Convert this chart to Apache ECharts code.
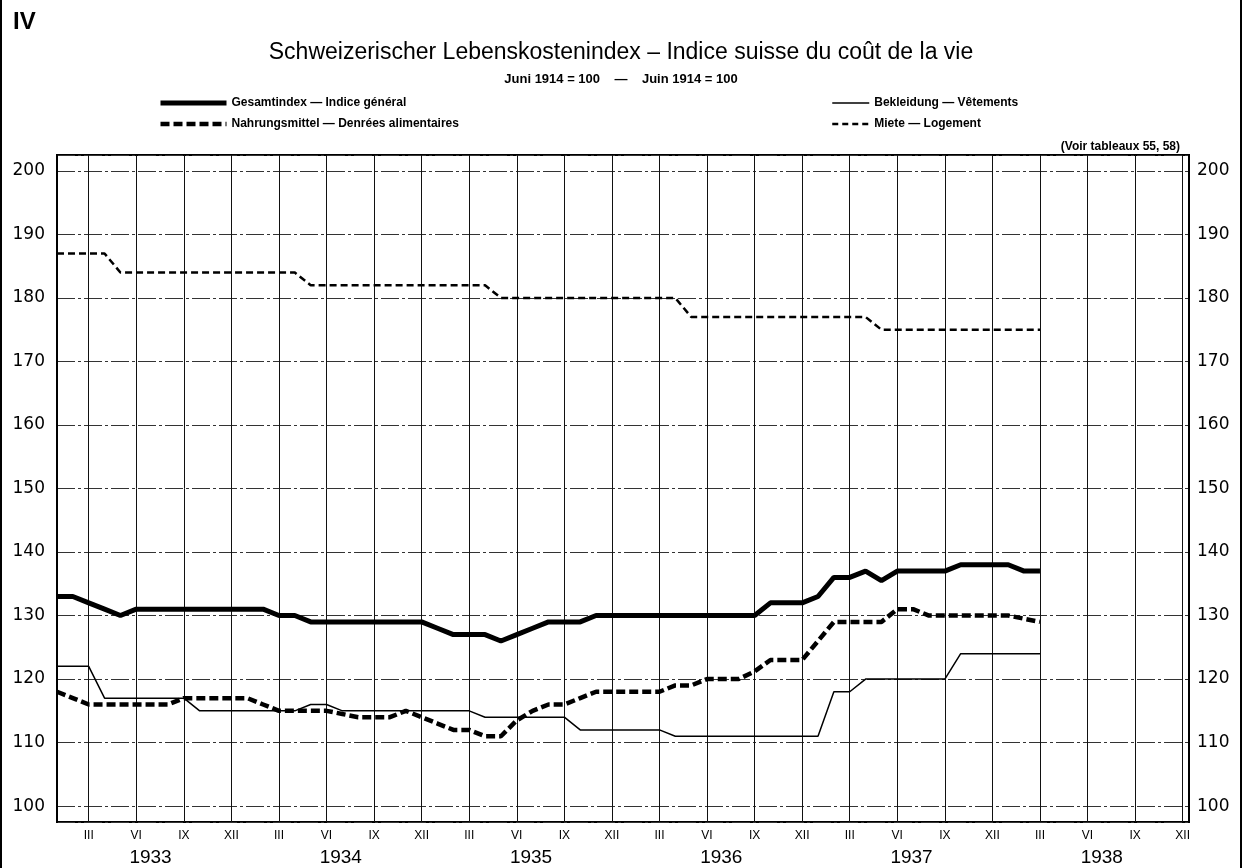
<!DOCTYPE html>
<html>
<head>
<meta charset="utf-8">
<script src="https://cdn.jsdelivr.net/npm/echarts@6/dist/echarts.min.js"></script>
<style>
  html, body { margin: 0; padding: 0; background: #fff; }
  #wrap { position: relative; width: 1242px; height: 868px; }
  #main { width: 1242px; height: 868px; }
  #frame { position: absolute; left: 0; top: 0; width: 1242px; height: 868px; box-sizing: border-box;
           border-left: 2px solid #000; border-right: 2px solid #000; pointer-events: none; }
</style>
</head>
<body>
<div id="wrap"><div id="main"></div><div id="frame"></div></div>
<script>
// months counted from January 1933 (0) to March 1938 (62)
const gesamtindex = [133, 133, 132, 131, 130, 131, 131, 131, 131, 131, 131, 131, 131, 131, 130, 130,
  129, 129, 129, 129, 129, 129, 129, 129, 128, 127, 127, 127, 126, 127, 128, 129,
  129, 129, 130, 130, 130, 130, 130, 130, 130, 130, 130, 130, 130, 132, 132, 132,
  133, 136, 136, 137, 135.5, 137, 137, 137, 137, 138, 138, 138, 138, 137, 137];
const nahrungsmittel = [118, 117, 116, 116, 116, 116, 116, 116, 117, 117, 117, 117, 117, 116, 115, 115,
  115, 115, 114.5, 114, 114, 114, 115, 114, 113, 112, 112, 111, 111, 113.5, 115, 116,
  116, 117, 118, 118, 118, 118, 118, 119, 119, 120, 120, 120, 121.2, 123, 123, 123,
  126, 129, 129, 129, 129, 131, 131, 130, 130, 130, 130, 130, 130, 129.5, 129];
const bekleidung = [122, 122, 122, 117, 117, 117, 117, 117, 117, 115, 115, 115, 115, 115, 115, 115,
  116, 116, 115, 115, 115, 115, 115, 115, 115, 115, 115, 114, 114, 114, 114, 114,
  114, 112, 112, 112, 112, 112, 112, 111, 111, 111, 111, 111, 111, 111, 111, 111,
  111, 118, 118, 120, 120, 120, 120, 120, 120, 124, 124, 124, 124, 124, 124];
const miete = [187, 187, 187, 187, 184, 184, 184, 184, 184, 184, 184, 184, 184, 184, 184, 184,
  182, 182, 182, 182, 182, 182, 182, 182, 182, 182, 182, 182, 180, 180, 180, 180,
  180, 180, 180, 180, 180, 180, 180, 180, 177, 177, 177, 177, 177, 177, 177, 177,
  177, 177, 177, 177, 175, 175, 175, 175, 175, 175, 175, 175, 175, 175, 175];

const quarterMonths = [2, 5, 8, 11, 14, 17, 20, 23, 26, 29, 32, 35, 38, 41, 44, 47,
  50, 53, 56, 59, 62, 65, 68, 71];
const quarterNames = ['III', 'VI', 'IX', 'XII'];
const years = ['1933', '1934', '1935', '1936', '1937', '1938'];
const yearCentres = [5.9, 17.9, 29.9, 41.9, 53.9, 65.9];

const seriesNames = ['Gesamtindex — Indice général', 'Nahrungsmittel — Denrées alimentaires',
  'Bekleidung — Vêtements', 'Miete — Logement'];

function pairs(values) {
  return values.map(function (v, i) { return [i, v]; });
}

const FONT = 'Liberation Sans';
const NUMFONT = 'DejaVu Sans';
const chart = echarts.init(document.getElementById('main'));

const legendText = { fontSize: 12, fontWeight: 'bold', color: '#000', fontFamily: FONT };

const option = {
  backgroundColor: '#fff',
  animation: false,
  textStyle: { fontFamily: FONT, color: '#000' },
  title: [
    { text: 'IV', left: 8, top: 5, textStyle: { fontSize: 24, fontWeight: 'bold', color: '#000', fontFamily: FONT } },
    { text: 'Schweizerischer Lebenskostenindex – Indice suisse du coût de la vie', left: 'center', top: 36,
      textStyle: { fontSize: 23, fontWeight: 'normal', color: '#000', fontFamily: FONT } },
    { text: 'Juni 1914 = 100    —    Juin 1914 = 100', left: 'center', top: 68,
      textStyle: { fontSize: 13, fontWeight: 'bold', color: '#000', fontFamily: FONT } },
    { text: '(Voir tableaux 55, 58)', right: 57, top: 136,
      textStyle: { fontSize: 12, fontWeight: 'bold', color: '#000', fontFamily: FONT } }
  ],
  legend: [
    { orient: 'vertical', left: 153, top: 92, itemWidth: 66, itemHeight: 14, itemGap: 9,
      itemStyle: { opacity: 0 }, textStyle: legendText,
      data: [
        { name: seriesNames[0], lineStyle: { width: 5 } },
        { name: seriesNames[1], lineStyle: { width: 4.5, type: [9, 4] } }
      ] },
    { orient: 'vertical', left: 826, top: 92, itemWidth: 37, itemHeight: 14, itemGap: 9,
      itemStyle: { opacity: 0 }, textStyle: legendText,
      data: [
        { name: seriesNames[2], lineStyle: { width: 1.5 } },
        { name: seriesNames[3], lineStyle: { width: 2.5, type: [6, 4] } }
      ] }
  ],
  grid: { left: 57, right: 53, top: 155, bottom: 46, show: true, borderColor: '#000', borderWidth: 2 },
  xAxis: [
    {
      type: 'value', min: 0, max: 71.4,
      axisLine: { show: false },
      splitLine: { show: false },
      axisTick: { customValues: quarterMonths, inside: true, length: 667, lineStyle: { color: '#111', width: 1 } },
      axisLabel: {
        customValues: quarterMonths, margin: 8, fontSize: 12, color: '#000', fontFamily: FONT,
        formatter: function (v) { return quarterNames[Math.round((v - 2) / 3) % 4]; }
      }
    },
    {
      type: 'value', min: 0, max: 71.4, position: 'bottom',
      axisLine: { show: false }, axisTick: { show: false }, splitLine: { show: false },
      axisLabel: {
        customValues: yearCentres, margin: 26, fontSize: 19, color: '#000', fontFamily: FONT,
        formatter: function (v) { return years[yearCentres.indexOf(v)]; }
      }
    }
  ],
  yAxis: [
    {
      type: 'value', position: 'left', min: 97.5, max: 202.5, splitNumber: 10, minInterval: 10, maxInterval: 10,
      offset: 5,
      axisLine: { show: true, lineStyle: { color: '#000', width: 2 } },
      axisTick: { show: false },
      splitLine: { show: true, lineStyle: { color: '#333', width: 1, type: [18, 3, 3, 3] } },
      axisLabel: { margin: 7, fontSize: 17, color: '#000', fontFamily: NUMFONT,
        formatter: function (v) { return v % 10 === 0 ? String(v) : ''; } }
    },
    {
      type: 'value', position: 'right', min: 97.5, max: 202.5, splitNumber: 10, minInterval: 10, maxInterval: 10,
      axisLine: { show: true, lineStyle: { color: '#000', width: 2 } },
      axisTick: { show: false },
      splitLine: { show: false },
      axisLabel: { margin: 8, fontSize: 17, color: '#000', fontFamily: NUMFONT,
        formatter: function (v) { return v % 10 === 0 ? String(v) : ''; } }
    }
  ],
  series: [
    { name: seriesNames[0], type: 'line', data: pairs(gesamtindex), showSymbol: false, symbol: 'none', z: 5,
      color: '#000', lineStyle: { color: '#000', width: 5 } },
    { name: seriesNames[1], type: 'line', data: pairs(nahrungsmittel), showSymbol: false, symbol: 'none', z: 4,
      color: '#000', lineStyle: { color: '#000', width: 4.5, type: [9, 4] } },
    { name: seriesNames[2], type: 'line', data: pairs(bekleidung), showSymbol: false, symbol: 'none', z: 3,
      color: '#000', lineStyle: { color: '#000', width: 1.5 } },
    { name: seriesNames[3], type: 'line', data: pairs(miete), showSymbol: false, symbol: 'none', z: 3,
      color: '#000', lineStyle: { color: '#000', width: 2.5, type: [7, 4] } }
  ]
};

chart.setOption(option);
window.addEventListener('resize', function () { chart.resize(); });
</script>
</body>
</html>
